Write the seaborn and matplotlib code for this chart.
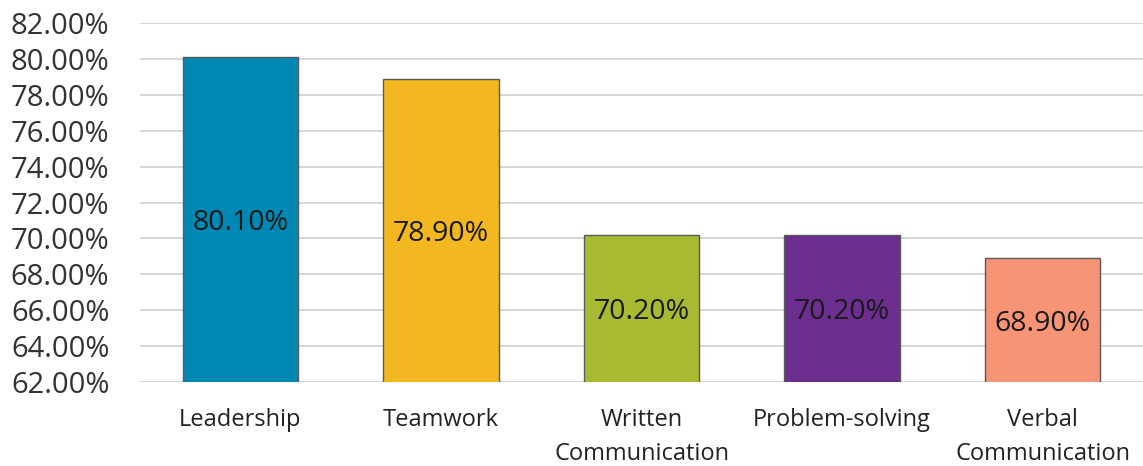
import matplotlib
matplotlib.use("Agg")
import matplotlib.pyplot as plt
import seaborn as sns
import pandas as pd

# ===================== DATOS =====================

skills = ["Leadership", "Teamwork", "Written\nCommunication",
          "Problem-solving", "Verbal\nCommunication"]
values = [80.10, 78.90, 70.20, 70.20, 68.90]
colors = ["#0088B4", "#F3B81F", "#A8B932", "#6C2E8F", "#F79475"]
y_ticks = [62, 64, 66, 68, 70, 72, 74, 76, 78, 80, 82]
y_base = 62

df = pd.DataFrame({"skill": skills, "value": values})

# ===================== FIGURA =====================

sns.set_style("white")
plt.rcParams["font.family"] = ["Open Sans", "DejaVu Sans"]

fig = plt.figure(figsize=(11.43, 4.66), dpi=100)
ax = fig.add_axes([0.1225, 0.1803, 0.8775, 0.7703])

sns.barplot(data=df, x="skill", y="value", hue="skill", palette=colors,
            legend=False, width=0.576, edgecolor="#595959", linewidth=1.0,
            saturation=1, ax=ax)

# etiquetas centradas en la parte visible de cada barra
for i, v in enumerate(values):
    ax.text(i, (v + y_base) / 2 - 0.2, f"{v:.2f}%", ha="center", va="center",
            fontsize=20.5, color="#1a1a1a")

ax.set_ylim(y_base, 82)
ax.set_xlim(-0.5, 4.5)
ax.set_yticks(y_ticks)
ax.set_yticklabels([f"{t:.2f}%" for t in y_ticks], fontsize=21, color="#333333")
ax.tick_params(axis="x", labelsize=17, colors="#222222", length=0, pad=19)
ax.tick_params(axis="y", length=0, pad=22)
for lab in ax.get_xticklabels():
    lab.set_linespacing(1.55)
ax.yaxis.grid(True, color="#CFCFCF", linewidth=1.2)
ax.set_axisbelow(True)
ax.set_xlabel("")
ax.set_ylabel("")
sns.despine(ax=ax, left=True, bottom=True)

fig.savefig("out.png", dpi=100)
